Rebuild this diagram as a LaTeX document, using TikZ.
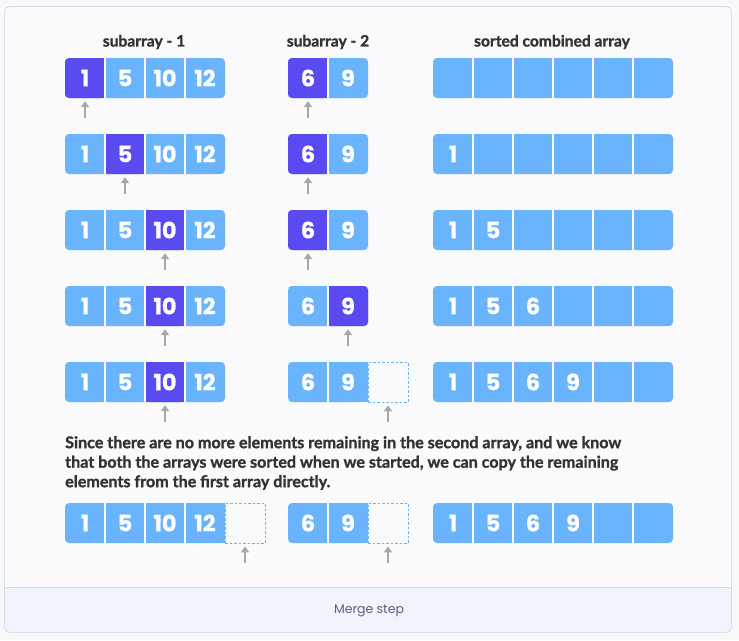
\documentclass[tikz,border=0pt]{standalone}
\usepackage{fontspec}
\setmainfont{Lato}[BoldFeatures={FakeBold=1.3}]
\newfontfamily\numfont{Poppins}[BoldFeatures={FakeBold=0.6}]
\newfontfamily\capfont{Poppins}
\usetikzlibrary{arrows.meta,calc}
\definecolor{cellblue}{HTML}{6AB3FD}
\definecolor{hlblue}{HTML}{5A4AF2}
\definecolor{pagebg}{HTML}{F8F9FB}
\definecolor{framecol}{HTML}{D6DEEA}
\definecolor{footbg}{HTML}{F0F5FD}
\definecolor{textdark}{HTML}{333333}
\definecolor{foottext}{HTML}{5E5C7F}
\definecolor{ptrgray}{HTML}{A8A8A8}
\tikzset{
  num/.style={minimum width=40pt,minimum height=40pt,inner sep=0pt,text=white,
    font=\numfont\bfseries\fontsize{22.5}{22.5}\selectfont},
  dashcell/.style={minimum width=40pt,minimum height=40pt,inner sep=0pt,draw=cellblue,
    line width=0.8pt,dash pattern=on 2.5pt off 2pt},
  sep/.style={white,line width=1.2pt},
  ptr/.style={ptrgray,line width=1.6pt,-{Triangle[length=6pt,width=8pt]}},
  head/.style={text=textdark,font=\bfseries\fontsize{15.6}{18}\selectfont},
}
% #1 name, #2 x, #3 y, #4 n cells, #5 labels, #6 highlight index (0 none), #7 dashed extra cell (0/1)
\newcommand{\mkarr}[7]{%
  \fill[cellblue,rounded corners=4pt] (#2,#3) rectangle ++(40*#4,40);
  \ifnum#7=1
    \fill[cellblue] (#2+40*#4-10,#3) rectangle ++(10,40);
    \node[dashcell] (#1-d) at (#2+40*#4+20,#3+20) {};
  \fi
  \ifnum#6>0
    \fill[hlblue,rounded corners=4pt] (#2+40*#6-40,#3) rectangle ++(40,40);
    \ifnum#6>1 \fill[hlblue] (#2+40*#6-40,#3) rectangle ++(20,40);\fi
    \ifnum#6<#4 \fill[hlblue] (#2+40*#6-20,#3) rectangle ++(20,40);\else
      \ifnum#7=1 \fill[hlblue] (#2+40*#6-20,#3) rectangle ++(20,40);\fi\fi
  \fi
  \foreach \t [count=\i] in {#5} {\node[num] (#1-\i) at (#2+40*\i-20,#3+20) {\t};}
  \foreach \i in {1,...,\numexpr#4-1\relax} {\draw[sep] (#2+40*\i,#3) -- ++(0,40);}
}
\newcommand{\pointer}[1]{%
  \coordinate (#1-p) at ($(#1.south)+(0,-20pt)$);
  \draw[ptr] (#1-p) -- ($(#1.south)+(0,-3pt)$);
}
\begin{document}
\begin{tikzpicture}[x=1pt,y=-1pt]
\useasboundingbox (0,0) rectangle (739,640);
\fill[pagebg] (0,0) rectangle (739,640);
% frame
\fill[white!40!pagebg,rounded corners=5pt] (4.5,6.5) rectangle (731.5,632.5);
\fill[footbg,rounded corners=5pt] (4.5,587) rectangle (731.5,632.5);
\fill[footbg] (4.5,587) rectangle (731.5,600);
\draw[framecol,line width=0.9pt,rounded corners=5pt] (4.5,6.5) rectangle (731.5,632.5);
\draw[framecol,line width=0.9pt] (4.5,587) -- (731.5,587);
\node[text=foottext,font=\capfont\fontsize{12.5}{14}\selectfont] (cap) at (369,611) {Merge step};
% headers
\node[head] (h1) at (144,42) {subarray - 1};
\node[head] (h2) at (328,42) {subarray - 2};
\node[head] (h3) at (552,42) {sorted combined array};
% row 1
\mkarr{a1}{65}{58}{4}{1,5,10,12}{1}{0}
\mkarr{b1}{288}{58}{2}{6,9}{1}{0}
\mkarr{c1}{433}{58}{6}{,,,,,}{0}{0}
\pointer{a1-1}\pointer{b1-1}
% row 2
\mkarr{a2}{65}{134}{4}{1,5,10,12}{2}{0}
\mkarr{b2}{288}{134}{2}{6,9}{1}{0}
\mkarr{c2}{433}{134}{6}{1,,,,,}{0}{0}
\pointer{a2-2}\pointer{b2-1}
% row 3
\mkarr{a3}{65}{210}{4}{1,5,10,12}{3}{0}
\mkarr{b3}{288}{210}{2}{6,9}{1}{0}
\mkarr{c3}{433}{210}{6}{1,5,,,,}{0}{0}
\pointer{a3-3}\pointer{b3-1}
% row 4
\mkarr{a4}{65}{286}{4}{1,5,10,12}{3}{0}
\mkarr{b4}{288}{286}{2}{6,9}{2}{0}
\mkarr{c4}{433}{286}{6}{1,5,6,,,}{0}{0}
\pointer{a4-3}\pointer{b4-2}
% row 5
\mkarr{a5}{65}{362}{4}{1,5,10,12}{3}{0}
\mkarr{b5}{288}{362}{2}{6,9}{0}{1}
\mkarr{c5}{433}{362}{6}{1,5,6,9,,}{0}{0}
\pointer{a5-3}\pointer{b5-d}
% text
\node[anchor=north west,inner sep=0pt,text=textdark,align=left,
  font=\bfseries\fontsize{16.1}{19.5}\selectfont] (para) at (65,436)
  {Since there are no more elements remaining in the second array, and we know\\
   that both the arrays were sorted when we started, we can copy the remaining\\
   elements from the first array directly.};
% row 6
\mkarr{a6}{65}{503}{4}{1,5,10,12}{0}{1}
\mkarr{b6}{288}{503}{2}{6,9}{0}{1}
\mkarr{c6}{433}{503}{6}{1,5,6,9,,}{0}{0}
\pointer{a6-d}\pointer{b6-d}
\end{tikzpicture}
\end{document}
